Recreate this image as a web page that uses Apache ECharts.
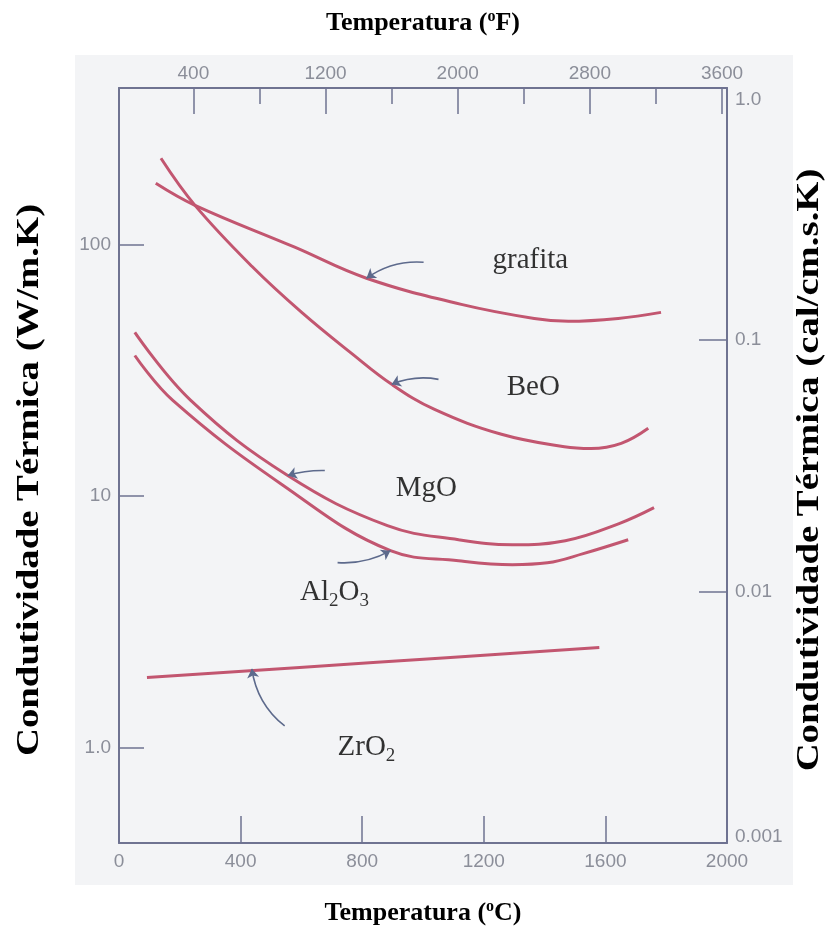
<!DOCTYPE html>
<html><head><meta charset="utf-8">
<script src="https://cdn.jsdelivr.net/npm/echarts@6/dist/echarts.min.js"></script>
<style>html,body{margin:0;padding:0;background:#fff}#c{width:828px;height:940px}</style>
</head><body><div id="c"></div>
<script>
// ---- data (temperature in °C, conductivity in W/m.K) ----
const grafitaT = [121, 250, 578, 814, 1126, 1366, 1478, 1642, 1783];
const grafitaK = [175, 143, 97.5, 73.4, 57.8, 50.8, 49.5, 50.8, 53.7];
const beoT = [138, 250, 437, 601, 765, 897, 1038, 1258, 1465, 1553, 1652, 1741];
const beoK = [220, 143, 81.9, 53.7, 36.9, 27.8, 22.1, 17.6, 15.7, 15.45, 16.2, 18.6];
const mgoT = [52, 236, 555, 883, 1117, 1294, 1468, 1645, 1760];
const mgoK = [44.7, 24.0, 12.07, 7.63, 6.71, 6.41, 6.65, 7.78, 9.0];
const al2o3T = [52, 177, 532, 893, 1117, 1294, 1409, 1527, 1675];
const al2o3K = [36.2, 24.0, 11.2, 6.07, 5.54, 5.34, 5.43, 5.91, 6.71];
const zro2T = [92, 836, 1580];
const zro2K = [1.9, 2.18, 2.5];

// tick values
const tempTicksC = [0, 400, 800, 1200, 1600, 2000];
const tempTicksF = [400, 1200, 2000, 2800, 3600];
const tempMinorF = [800, 1600, 2400, 3200];
const condTicksW = [1, 10, 100];
const condTicksCal = [0.001, 0.01, 0.1, 1];

// axis titles
const titleLeft = 'Condutividade Térmica (W/m.K)';
const titleRight = 'Condutividade Térmica (cal/cm.s.K)';

// labels: [T, K, text]
const labelNames = ['grafita', 'BeO', 'MgO', 'Al{sub|2}O{sub|3}', 'ZrO{sub|2}'];
const labelT = [1353, 1363, 1011, 709, 814];
const labelK = [86.5, 27.0, 10.7, 4.13, 1.0];

// annotation arrows: tail -> head, curveness
const arrowTail = [[1002, 85.0], [1051, 29.1], [677, 12.64], [719, 5.44], [545, 1.221]];
const arrowHead = [[814, 73.4], [897, 27.8], [555, 12.07], [893, 6.07], [437, 2.06]];
const arrowCurve = [-0.18, -0.15, -0.08, -0.15, 0.2];

const zip = (a, b) => a.map((v, i) => [v, b[i]]);

const axisColor = '#6f7391';
const labelColor = '#8b8e99';
const curveColor = '#c25670';
const arrowColor = '#5d6a8c';
const tickFont = { fontFamily: 'Liberation Sans', fontSize: 19, color: labelColor };
function titleStyle(size, extra) {
  return Object.assign({
    fontFamily: 'Liberation Serif', fontWeight: 'bold', fontSize: size, color: '#000',
    rich: { sup: { fontFamily: 'Liberation Serif', fontWeight: 'bold', fontSize: Math.round(size * 0.62), color: '#000', verticalAlign: 'top', padding: [0, 0, Math.round(size * 0.5), 0] } }
  }, extra || {});
}
const plain = v => String(v);

const chart = echarts.init(document.getElementById('c'), null, { renderer: 'canvas' });

function curve(name, t, k) {
  return {
    name, type: 'line', xAxisIndex: 0, yAxisIndex: 0, data: zip(t, k), smooth: 0.4,
    showSymbol: false, symbol: 'none', lineStyle: { color: curveColor, width: 3 }, z: 5
  };
}
function vTitle(text, x, y) {
  return {
    type: 'text', x, y, rotation: Math.PI / 2, scaleX: 1.25, scaleY: 1, z: 10, silent: true,
    style: { text, fontFamily: 'Liberation Serif', fontWeight: 'bold', fontSize: 31, fill: '#000', align: 'center', verticalAlign: 'middle' }
  };
}

const option = {
  animation: false,
  backgroundColor: '#ffffff',
  graphic: [
    { type: 'rect', shape: { x: 75, y: 55, width: 718, height: 830 }, style: { fill: '#f3f4f6' }, z: -10, silent: true },
    vTitle(titleLeft, 30, 480),
    vTitle(titleRight, 810, 470)
  ],
  grid: { left: 119, right: 101, top: 88, bottom: 97, containLabel: false, outerBoundsMode: 'none' },
  xAxis: [
    {
      type: 'value', position: 'bottom', min: 0, max: 2000, interval: 400,
      name: 'Temperatura ({sup|o}C)', nameLocation: 'middle', nameGap: 56, nameMoveOverlap: false,
      nameTextStyle: titleStyle(26),
      axisLine: { show: true, onZero: false, lineStyle: { color: axisColor, width: 2 } },
      axisTick: { show: true, inside: true, length: 27, lineStyle: { color: axisColor, width: 1.5 } },
      axisLabel: Object.assign({ margin: 9, customValues: tempTicksC, formatter: plain }, tickFont),
      splitLine: { show: false }
    },
    {
      type: 'value', position: 'top', min: -50, max: 3630,
      name: 'Temperatura ({sup|o}F)', nameLocation: 'middle', nameGap: 50, nameMoveOverlap: false,
      nameTextStyle: titleStyle(26),
      axisLine: { show: true, onZero: false, lineStyle: { color: axisColor, width: 2 } },
      axisTick: { show: true, inside: true, length: 26, customValues: tempTicksF, lineStyle: { color: axisColor, width: 1.5 } },
      axisLabel: Object.assign({ margin: 5, customValues: tempTicksF, formatter: plain }, tickFont),
      splitLine: { show: false }
    },
    {
      type: 'value', position: 'top', min: -50, max: 3630,
      axisLine: { show: false, onZero: false },
      axisTick: { show: true, inside: true, length: 16, customValues: tempMinorF, lineStyle: { color: axisColor, width: 1.5 } },
      axisLabel: { show: false },
      splitLine: { show: false }
    }
  ],
  yAxis: [
    {
      type: 'log', logBase: 10, position: 'left', min: 0.4184, max: 418.4,
      axisLine: { show: true, onZero: false, lineStyle: { color: axisColor, width: 2 } },
      axisTick: { show: true, inside: true, length: 25, customValues: condTicksW, lineStyle: { color: axisColor, width: 1.5 } },
      axisLabel: Object.assign({ margin: 8, customValues: condTicksW, formatter: v => (v === 1 ? '1.0' : String(v)) }, tickFont),
      splitLine: { show: false }, minorTick: { show: false }
    },
    {
      type: 'log', logBase: 10, position: 'right', min: 0.001, max: 1,
      axisLine: { show: true, onZero: false, lineStyle: { color: axisColor, width: 2 } },
      axisTick: { show: true, inside: true, length: 28, customValues: condTicksCal, lineStyle: { color: axisColor, width: 1.5 } },
      axisLabel: Object.assign({
        margin: 8, customValues: condTicksCal,
        formatter: v => (v >= 1 ? '{t|1.0}' : v <= 0.001 ? '{b|0.001}' : String(v)),
        rich: {
          t: Object.assign({ padding: [24, 0, 0, 0] }, tickFont),
          b: Object.assign({ padding: [0, 0, 12, 0] }, tickFont)
        }
      }, tickFont),
      splitLine: { show: false }, minorTick: { show: false }
    }
  ],
  series: [
    curve('grafita', grafitaT, grafitaK),
    curve('BeO', beoT, beoK),
    curve('MgO', mgoT, mgoK),
    curve('Al2O3', al2o3T, al2o3K),
    curve('ZrO2', zro2T, zro2K),
    {
      type: 'lines', coordinateSystem: 'cartesian2d', xAxisIndex: 0, yAxisIndex: 0, z: 6,
      symbol: ['none', 'arrow'], symbolSize: [0, 9],
      lineStyle: { color: arrowColor, width: 1.6, opacity: 1 },
      data: arrowTail.map((t, i) => ({ coords: [t, arrowHead[i]], lineStyle: { curveness: arrowCurve[i] } }))
    },
    {
      type: 'scatter', xAxisIndex: 0, yAxisIndex: 0, symbolSize: 0, z: 7,
      data: labelT.map((t, i) => ({ value: [t, labelK[i]], name: labelNames[i] })),
      label: {
        show: true, position: 'inside', formatter: p => p.name,
        fontFamily: 'Liberation Serif', fontSize: 29, color: '#000',
        rich: { sub: { fontFamily: 'Liberation Serif', fontSize: 19, color: '#000', verticalAlign: 'bottom', padding: [16, 0, 0, 0] } }
      }
    }
  ]
};
chart.setOption(option);
</script></body></html>
